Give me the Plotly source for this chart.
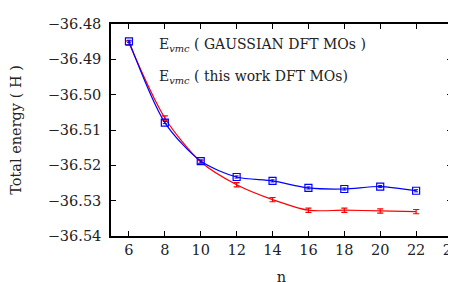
import plotly.graph_objects as go

n = [6, 8, 10, 12, 14, 16, 18, 20, 22]
e_gauss = [-36.4849, -36.5079, -36.5188, -36.5233, -36.5244, -36.5264, -36.5267, -36.5260, -36.5272]
err_gauss = [0.0003, 0.0003, 0.0003, 0.0003, 0.0003, 0.0003, 0.0003, 0.0003, 0.0003]
e_this = [-36.4854, -36.5066, -36.5190, -36.5255, -36.5297, -36.5327, -36.5327, -36.5329, -36.5331]
err_this = [0.0006, 0.0006, 0.0005, 0.0006, 0.0006, 0.0006, 0.0006, 0.0006, 0.0006]

x_ticks = [6, 8, 10, 12, 14, 16, 18, 20, 22, 24]
y_ticks = [-36.48, -36.49, -36.50, -36.51, -36.52, -36.53, -36.54]

label_gauss = "E<sub><i>vmc</i></sub> ( GAUSSIAN DFT MOs )"
label_this = "E<sub><i>vmc</i></sub> ( this work DFT MOs)"

FONT = "DejaVu Serif"
BLUE = "#0000ff"
RED = "#ff0000"
TXT = "#222222"

fig = go.Figure()
fig.add_trace(go.Scatter(
    x=n, y=e_this, mode="lines",
    line=dict(color=RED, width=1.2, shape="spline", smoothing=0.8),
    error_y=dict(type="data", array=err_this, color=RED, thickness=1.2, width=3),
    showlegend=False,
))
fig.add_trace(go.Scatter(
    x=n, y=e_gauss, mode="lines+markers",
    line=dict(color=BLUE, width=1.2, shape="spline", smoothing=0.8),
    marker=dict(symbol="square-open", size=7, color=BLUE, line=dict(width=1.2)),
    error_y=dict(type="data", array=err_gauss, color=BLUE, thickness=1, width=2),
    showlegend=False,
))

def px2paper_x(px):
    return (px - 103) / (444 - 103)

def px2paper_y(py):
    return (228 - py) / (228 - 16)

for label, py in [(label_gauss, 37), (label_this, 69)]:
    fig.add_annotation(
        x=px2paper_x(149), y=px2paper_y(py), xref="paper", yref="paper",
        text=label, showarrow=False, xanchor="left", yanchor="middle",
        font=dict(family=FONT, size=14, color=TXT),
    )

shapes = [
    dict(type="line", x0=px2paper_x(382), x1=px2paper_x(423), y0=px2paper_y(37), y1=px2paper_y(37),
         line=dict(color=BLUE, width=1.2)),
    dict(type="rect", x0=px2paper_x(397), x1=px2paper_x(407), y0=px2paper_y(33), y1=px2paper_y(41),
         line=dict(color=BLUE, width=1.2), fillcolor="white"),
    dict(type="line", x0=px2paper_x(402), x1=px2paper_x(402), y0=px2paper_y(33), y1=px2paper_y(41),
         line=dict(color=BLUE, width=1)),
    dict(type="line", x0=px2paper_x(382), x1=px2paper_x(423), y0=px2paper_y(69), y1=px2paper_y(69),
         line=dict(color=RED, width=1.2)),
    dict(type="line", x0=px2paper_x(402), x1=px2paper_x(402), y0=px2paper_y(58), y1=px2paper_y(79),
         line=dict(color=RED, width=1.2)),
    dict(type="line", x0=px2paper_x(398), x1=px2paper_x(406), y0=px2paper_y(58), y1=px2paper_y(58),
         line=dict(color=RED, width=1.2)),
    dict(type="line", x0=px2paper_x(398), x1=px2paper_x(406), y0=px2paper_y(79), y1=px2paper_y(79),
         line=dict(color=RED, width=1.2)),
]

axis_common = dict(
    showline=True, linecolor="black", linewidth=1.5, mirror="ticks",
    ticks="inside", ticklen=5, tickwidth=1, tickcolor="black",
    showgrid=False, zeroline=False, automargin=False,
    tickfont=dict(family=FONT, size=14.5, color=TXT),
)

fig.update_layout(
    width=456, height=282,
    margin=dict(l=103, r=12, t=16, b=54),
    paper_bgcolor="white", plot_bgcolor="white",
    font=dict(family=FONT, color=TXT),
    shapes=shapes,
    xaxis=dict(range=[5, 24], tickvals=x_ticks, ticktext=[str(v) for v in x_ticks],
               title=dict(text="n", font=dict(family=FONT, size=14.5, color=TXT), standoff=15),
               **axis_common),
    yaxis=dict(range=[-36.54, -36.48], tickvals=y_ticks, tickformat=".2f",
               ticklabelstandoff=5,
               title=dict(text="Total energy ( H )", font=dict(family=FONT, size=14.5, color=TXT), standoff=23),
               **axis_common),
)

fig.write_html("out.html")
